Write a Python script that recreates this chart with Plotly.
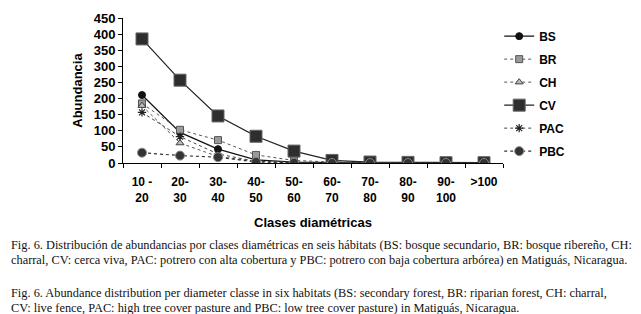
import plotly.graph_objects as go

categories = ["10 -<br>20", "20-<br>30", "30-<br>40", "40-<br>50", "50-<br>60",
              "60-<br>70", "70-<br>80", "80-<br>90", "90-<br>100", ">100"]
BS = [211, 95, 43, 10, 3, 1, 0, 0, 0, 0]
BR = [185, 103, 71, 25, 8, 3, 1, 0, 0, 0]
CH = [178, 62, 20, 5, 2, 1, 0, 0, 0, 0]
CV = [385, 257, 146, 83, 37, 8, 3, 2, 1, 1]
PAC = [157, 82, 28, 5, 2, 1, 0, 0, 0, 0]
PBC = [32, 23, 18, 3, 1, 0, 0, 0, 0, 0]
y_ticks = [0, 50, 100, 150, 200, 250, 300, 350, 400, 450]

series = [
    ("BS", BS, dict(symbol="circle", size=7, color="#111", line=dict(color="#111", width=1)), dict(color="#111", width=1.2, dash="solid")),
    ("BR", BR, dict(symbol="square", size=7, color="#9a9a9a", line=dict(color="#555", width=1)), dict(color="#555", width=1, dash="dot")),
    ("CH", CH, dict(symbol="triangle-up", size=7, color="#bbb", line=dict(color="#444", width=1)), dict(color="#555", width=1, dash="dot")),
    ("CV", CV, dict(symbol="square", size=12, color="#2e2e2e", line=dict(color="#666", width=1)), dict(color="#222", width=1.2, dash="solid")),
    ("PAC", PAC, dict(symbol="asterisk-open", size=7, color="#222", line=dict(color="#222", width=1.2)), dict(color="#444", width=1, dash="dot")),
    ("PBC", PBC, dict(symbol="circle", size=9, color="#333", line=dict(color="#888", width=1)), dict(color="#333", width=1.2, dash="dot")),
]

fig = go.Figure()
for name, vals, mk, ln in series:
    fig.add_trace(go.Scatter(x=categories, y=vals, name=name, mode="lines+markers",
                             marker=mk, line=ln, legendgroup=name))

fig.update_layout(
    width=641, height=314,
    margin=dict(l=115, r=146, t=10, b=159, autoexpand=False),
    paper_bgcolor="white", plot_bgcolor="white",
    font=dict(family="Liberation Sans, Arial", color="black"),
    showlegend=True,
    legend=dict(x=0.99, y=0.975, xanchor="left", yanchor="top",
                font=dict(size=12, weight="bold"), tracegroupgap=4, maxheight=300,
                bgcolor="rgba(0,0,0,0)"),
    xaxis=dict(type="category", categoryarray=categories, showline=True, linecolor="black",
               linewidth=1, ticks="outside", ticklen=4, tickcolor="black", tickson="boundaries",
               tickfont=dict(size=12, weight="bold"), showgrid=False, zeroline=False,
               range=[-0.5, 9.5], tickangle=0, automargin=False, ticklabelstandoff=8,
               title=dict(text="Clases diamétricas", font=dict(size=13, weight="bold"), standoff=13)),
    yaxis=dict(range=[0, 450], tickvals=y_ticks, showline=True, linecolor="black", linewidth=1,
               ticks="outside", ticklen=4, tickcolor="black", showgrid=False, zeroline=False,
               tickfont=dict(size=13, weight="bold"), automargin=False,
               title=dict(text="Abundancia", font=dict(size=13, weight="bold"), standoff=8)),
)

captions = [
    ("Fig. 6. Distribución de abundancias por clases diamétricas en seis hábitats (BS: bosque secundario, BR: bosque ribereño, CH:", 237),
    ("charral, CV: cerca viva, PAC: potrero con alta cobertura y PBC: potrero con baja cobertura arbórea) en Matiguás, Nicaragua.", 252),
    ("Fig. 6. Abundance distribution per diameter classe in six habitats (BS: secondary forest, BR: riparian forest, CH: charral,", 285),
    ("CV: live fence, PAC: high tree cover pasture and PBC: low tree cover pasture) in Matiguás, Nicaragua.", 300),
]
for text, ypix in captions:
    fig.add_annotation(text=text, xref="paper", yref="paper",
                       x=(1 - 115) / 380, y=(155 - ypix) / 145, xanchor="left", yanchor="middle",
                       showarrow=False, font=dict(family="Liberation Serif, Times New Roman", size=12.35, color="#111"))

fig.write_html("out.html")
